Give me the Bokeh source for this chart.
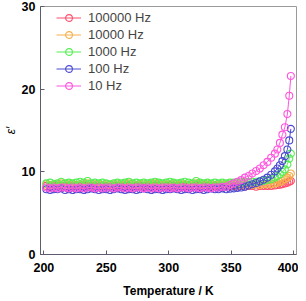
from bokeh.plotting import figure
from bokeh.models import FixedTicker, Range1d, Legend, LegendItem
from bokeh.embed import file_html
from bokeh.resources import INLINE

temperature = [202, 205, 208, 211, 214, 217, 220, 223, 226, 229,
               232, 235, 238, 241, 244, 247, 250, 253, 256, 259,
               262, 265, 268, 271, 274, 277, 280, 283, 286, 289,
               292, 295, 298, 301, 304, 307, 310, 313, 316, 319,
               322, 325, 328, 331, 334, 337, 340, 343, 346,
               349, 352, 355, 358, 361, 364, 367, 370, 373, 376, 379, 382,
               385, 387, 389, 391, 393, 395, 396.5, 397.8]

eps_100000 = [8.3, 8.2, 8.3, 8.3, 8.2, 8.3, 8.2, 8.3, 8.3, 8.2,
              8.3, 8.3, 8.2, 8.3, 8.2, 8.3, 8.3, 8.2, 8.3, 8.3,
              8.2, 8.3, 8.3, 8.2, 8.3, 8.3, 8.2, 8.3, 8.2, 8.3,
              8.3, 8.2, 8.3, 8.3, 8.2, 8.3, 8.3, 8.2, 8.3, 8.2,
              8.3, 8.3, 8.2, 8.3, 8.2, 8.3, 8.3, 8.2, 8.3,
              8.2, 8.3, 8.2, 8.3, 8.2, 8.3, 8.3, 8.2, 8.3, 8.3, 8.3, 8.3,
              8.35, 8.4, 8.45, 8.5, 8.6, 8.7, 8.8, 8.9]

eps_10000 = [8.5, 8.4, 8.5, 8.5, 8.6, 8.4, 8.5, 8.5, 8.4, 8.5,
             8.5, 8.6, 8.4, 8.5, 8.5, 8.4, 8.5, 8.4, 8.5, 8.5,
             8.4, 8.5, 8.6, 8.5, 8.4, 8.5, 8.5, 8.4, 8.5, 8.6,
             8.5, 8.4, 8.5, 8.5, 8.6, 8.4, 8.5, 8.5, 8.4, 8.5,
             8.6, 8.5, 8.4, 8.5, 8.5, 8.4, 8.5, 8.5, 8.4,
             8.5, 8.4, 8.5, 8.4, 8.5, 8.4, 8.4, 8.5, 8.4, 8.5, 8.5, 8.5,
             8.6, 8.7, 8.8, 8.9, 9.1, 9.3, 9.5, 9.8]

eps_1000 = [8.6, 8.7, 8.5, 8.6, 8.8, 8.6, 8.7, 8.6, 8.7, 8.8,
            8.7, 8.9, 8.6, 8.7, 8.6, 8.7, 8.6, 8.5, 8.6, 8.7,
            8.6, 8.7, 8.8, 8.6, 8.7, 8.6, 8.7, 8.6, 8.7, 8.8,
            8.7, 8.6, 8.7, 8.8, 8.7, 8.6, 8.7, 8.8, 8.7, 8.6,
            8.9, 8.7, 8.6, 8.7, 8.6, 8.7, 8.6, 8.7, 8.6,
            8.7, 8.7, 8.7, 8.8, 8.7, 8.8, 8.8, 8.8, 8.85, 8.9, 9.0, 9.1,
            9.3, 9.5, 9.7, 10.0, 10.3, 10.9, 11.6, 12.2]

eps_100 = [7.9, 7.8, 7.9, 7.9, 8.0, 7.8, 7.9, 7.8, 7.9, 7.9,
           7.8, 7.9, 8.0, 7.9, 7.8, 7.9, 7.9, 7.8, 7.9, 8.0,
           7.9, 7.8, 7.9, 7.9, 7.8, 7.9, 8.0, 7.9, 7.8, 7.9,
           7.9, 7.8, 7.9, 7.9, 8.0, 7.9, 7.8, 7.9, 7.9, 7.8,
           7.9, 7.9, 7.8, 7.9, 8.0, 7.9, 7.9, 8.0, 7.9,
           7.95, 8.0, 8.05, 8.1, 8.2, 8.35, 8.5, 8.65, 8.85, 9.05, 9.3, 9.65,
           10.05, 10.4, 10.8, 11.3, 11.9, 12.7, 13.8, 15.2]

eps_10 = [8.1, 8.0, 8.1, 8.0, 8.1, 8.1, 8.0, 8.1, 8.0, 8.1,
          8.0, 8.1, 8.1, 8.0, 8.1, 8.0, 8.1, 8.1, 8.0, 8.1,
          8.1, 8.0, 8.1, 8.0, 8.1, 8.1, 8.0, 8.1, 8.0, 8.1,
          8.0, 8.1, 8.1, 8.0, 8.1, 8.0, 8.1, 8.1, 8.0, 8.1,
          8.1, 8.0, 8.1, 8.1, 8.0, 8.1, 8.1, 8.2, 8.2,
          8.4, 8.6, 8.8, 9.0, 9.3, 9.5, 9.8, 10.1, 10.4, 10.8, 11.2, 11.7,
          12.2, 12.7, 13.5, 14.5, 15.4, 17.0, 19.2, 21.6]

series_labels = ["100000 Hz", "10000 Hz", "1000 Hz", "100 Hz", "10 Hz"]
series_values = [eps_100000, eps_10000, eps_1000, eps_100, eps_10]
series_colors = ["#ff4d6d", "#f5b04a", "#55ee55", "#4a4ad2", "#ff55dd"]

x_ticks = [200, 250, 300, 350, 400]
y_ticks = [0, 10, 20, 30]

p = figure(width=298, height=300, output_backend="svg", toolbar_location=None,
           x_range=Range1d(197.3, 402.3), y_range=Range1d(0, 30),
           min_border_left=36, min_border_right=2, min_border_top=6,
           min_border_bottom=44)

p.xgrid.visible = False
p.ygrid.visible = False
p.outline_line_color = "#9a9a9a"
p.outline_line_width = 1
p.background_fill_color = "white"
p.border_fill_color = "white"

items = []
for lab, vals, col in zip(series_labels, series_values, series_colors):
    r1 = p.line(temperature, vals, line_color=col, line_width=1.0)
    r2 = p.scatter(temperature, vals, marker="circle", size=7, line_color=col,
                   line_width=1.1, fill_alpha=0)
    items.append(LegendItem(label=lab, renderers=[r1, r2]))

legend = Legend(items=items, location=(16, 160))
legend.border_line_color = None
legend.background_fill_alpha = 0
legend.label_text_font = "Liberation Sans"
legend.label_text_font_size = "13px"
legend.glyph_width = 25
legend.glyph_height = 17
legend.label_height = 17
legend.label_standoff = 7
legend.spacing = 0
legend.padding = 0
legend.margin = 0
p.add_layout(legend)

for ax, ticks in ((p.xaxis[0], x_ticks), (p.yaxis[0], y_ticks)):
    ax.ticker = FixedTicker(ticks=ticks)
    ax.minor_tick_line_color = None
    ax.major_tick_in = 4
    ax.major_tick_out = 0
    ax.axis_line_color = "#5c5c6e"
    ax.major_tick_line_color = "#5c5c6e"
    ax.major_label_text_font = "Liberation Sans"
    ax.major_label_text_font_style = "bold"
    ax.major_label_text_font_size = "12.5px"
    ax.major_label_text_color = "black"
    ax.axis_label_text_font = "Liberation Sans"
    ax.axis_label_text_color = "black"

p.xaxis.axis_label = "Temperature / K"
p.xaxis.axis_label_text_font_style = "bold"
p.xaxis.axis_label_text_font_size = "12px"
p.xaxis.major_label_standoff = 8
p.xaxis.axis_label_standoff = 9

p.yaxis.axis_label = "ε′"
p.yaxis.axis_label_text_font_style = "italic"
p.yaxis.axis_label_text_font_size = "12px"
p.yaxis.major_label_standoff = 5
p.yaxis.axis_label_standoff = 1

open("out.html", "w").write(file_html(p, INLINE))
